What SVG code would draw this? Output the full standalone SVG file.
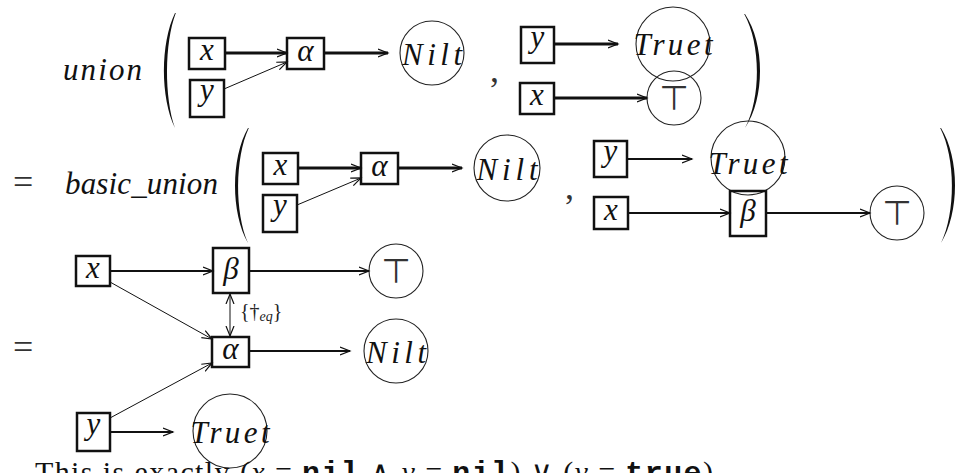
<svg xmlns="http://www.w3.org/2000/svg" width="962" height="473" viewBox="0 0 962 473">
<style>
.box{fill:none;stroke:#111;stroke-width:2.5}
.circ{fill:none;stroke:#222;stroke-width:1.1}
.c{fill:none;stroke:#111}
.k{stroke-width:2.8}
.md{stroke-width:2}
.tn{stroke-width:1}
.m{font-family:'Liberation Serif','DejaVu Serif','Times New Roman',serif;font-style:italic;font-size:31px;text-anchor:middle;fill:#111}
.r{font-family:'Liberation Serif','DejaVu Serif',serif;font-size:36px;fill:#333}
.top{font-family:'DejaVu Sans',sans-serif;font-size:34px;text-anchor:middle;fill:#333}
.paren{fill:#111;stroke:none}
.lbl{font-family:'Liberation Serif','DejaVu Serif',serif;font-size:20px;fill:#222}
.cap{font-family:'Liberation Serif','DejaVu Serif',serif;font-size:30px;fill:#111}
.tt{font-family:'Liberation Mono','DejaVu Sans Mono',monospace;font-weight:bold}
</style>
<defs>
<marker id="ah" markerWidth="12" markerHeight="10" refX="10" refY="5" orient="auto-start-reverse" markerUnits="userSpaceOnUse">
<path d="M0,1 L10,5 L0,9" fill="none" stroke="#111" stroke-width="1.2"/>
</marker>
</defs>

<!-- Row 1 -->
<text class="m" x="102.5" y="80" font-size="36" textLength="79" lengthAdjust="spacing">union</text>
<path class="paren" d="M175,13 C160.3,43 160.3,98 175,128 C164.3,98 164.3,43 175.8,13 Z"/>
<path class="paren" d="M745,14 C765,44 765,98 745,128 C761,98 761,44 744.2,14 Z"/>
<text class="r" x="490" y="82" font-size="30">,</text>

<g id="r1-x"><rect class="box" x="189" y="38" width="36" height="31"/><text class="m" x="207" y="60">x</text></g>
<g id="r1-y"><rect class="box" x="190" y="80" width="34" height="37"/><text class="m" x="207" y="100">y</text></g>
<g id="r1-alpha"><rect class="box" x="287" y="38" width="37" height="31"/><text class="m" x="305.5" y="61">α</text></g>
<g id="r1-nilt"><circle class="circ" cx="432" cy="53" r="32"/><text class="m" x="432" y="65" font-size="35" textLength="60" lengthAdjust="spacing">Nilt</text></g>
<g id="r1-y2"><rect class="box" x="521" y="27" width="33" height="36"/><text class="m" x="537.5" y="47">y</text></g>
<g id="r1-truet"><circle class="circ" cx="673" cy="44" r="37"/><text class="m" x="673" y="55" font-size="36" textLength="79" lengthAdjust="spacing">Truet</text></g>
<g id="r1-x2"><rect class="box" x="520" y="83" width="34" height="31"/><text class="m" x="537" y="105">x</text></g>
<g id="r1-top"><circle class="circ" cx="674" cy="98" r="27"/><text class="top" x="674" y="110">⊤</text></g>

<!-- Row 2 -->
<text class="r" x="13" y="194">=</text>
<text class="m" x="141.5" y="194" font-size="34" textLength="153" lengthAdjust="spacing">basic_union</text>
<path class="paren" d="M248,128 C230.7,158 230.7,213 248,243 C234.7,213 234.7,158 248.8,128 Z"/>
<path class="paren" d="M941,128 C959.7,158 959.7,213 941,243 C955.7,213 955.7,158 940.2,128 Z"/>
<text class="r" x="565" y="199" font-size="30">,</text>

<g id="r2-x"><rect class="box" x="263" y="153" width="35" height="31"/><text class="m" x="280.5" y="175">x</text></g>
<g id="r2-y"><rect class="box" x="263" y="195" width="34" height="37"/><text class="m" x="280" y="215">y</text></g>
<g id="r2-alpha"><rect class="box" x="361" y="153" width="37" height="31"/><text class="m" x="379.5" y="176">α</text></g>
<g id="r2-nilt"><circle class="circ" cx="507" cy="168" r="33"/><text class="m" x="507" y="180" font-size="35" textLength="61" lengthAdjust="spacing">Nilt</text></g>
<g id="r2-y2"><rect class="box" x="594" y="141" width="33" height="36"/><text class="m" x="610.5" y="161">y</text></g>
<g id="r2-truet"><circle class="circ" cx="748" cy="158" r="37"/><text class="m" x="748" y="174" font-size="36" textLength="79" lengthAdjust="spacing">Truet</text></g>
<g id="r2-x2"><rect class="box" x="594" y="197" width="34" height="32"/><text class="m" x="611" y="220">x</text></g>
<g id="r2-beta"><rect class="box" x="730" y="191" width="36" height="45"/><text class="m" x="748" y="221">β</text></g>
<g id="r2-top"><circle class="circ" cx="897" cy="213" r="27"/><text class="top" x="897" y="225">⊤</text></g>

<!-- Row 3 -->
<text class="r" x="13" y="359">=</text>
<g id="r3-x"><rect class="box" x="76" y="256" width="34" height="30"/><text class="m" x="93" y="278">x</text></g>
<g id="r3-beta"><rect class="box" x="213" y="248" width="36" height="45"/><text class="m" x="231" y="279">β</text></g>
<g id="r3-top"><circle class="circ" cx="396" cy="271" r="27"/><text class="top" x="396" y="283">⊤</text></g>
<g id="r3-alpha"><rect class="box" x="212" y="337" width="37" height="30"/><text class="m" x="230.5" y="359">α</text></g>
<g id="r3-nilt"><circle class="circ" cx="396" cy="351" r="32"/><text class="m" x="396" y="363" font-size="35" textLength="60" lengthAdjust="spacing">Nilt</text></g>
<g id="r3-y"><rect class="box" x="77" y="413" width="33" height="38"/><text class="m" x="93.5" y="434">y</text></g>
<g id="r3-truet"><circle class="circ" cx="230" cy="431" r="37"/><text class="m" x="230" y="443" font-size="36" textLength="79" lengthAdjust="spacing">Truet</text></g>
<text class="lbl" x="240" y="318">{†<tspan font-style="italic" font-size="14" dy="3">eq</tspan><tspan dy="-3">}</tspan></text>

<g id="connectors" fill="none" marker-end="url(#ah)">
<line class="c k" x1="225" y1="53" x2="287" y2="53"/>
<line class="c tn" x1="224" y1="89" x2="287" y2="62"/>
<line class="c k" x1="324" y1="53" x2="388" y2="53"/>
<line class="c k" x1="554" y1="44" x2="618" y2="44"/>
<line class="c k" x1="554" y1="98" x2="647" y2="98"/>
<line class="c k" x1="298" y1="168" x2="361" y2="168"/>
<line class="c tn" x1="297" y1="205" x2="361" y2="178"/>
<line class="c k" x1="398" y1="168" x2="462" y2="168"/>
<line class="c md" x1="627" y1="159" x2="692" y2="159"/>
<line class="c md" x1="628" y1="213" x2="730" y2="213"/>
<line class="c md" x1="766" y1="213" x2="870" y2="213"/>
<line class="c md" x1="110" y1="271" x2="213" y2="271"/>
<line class="c md" x1="249" y1="271" x2="369" y2="271"/>
<line class="c tn" x1="110" y1="282" x2="212" y2="339"/>
<line class="c tn" x1="110" y1="418" x2="212" y2="363"/>
<line class="c md" x1="249" y1="351" x2="350" y2="351"/>
<line class="c md" x1="110" y1="432" x2="173" y2="432"/>
<line class="c tn" x1="230" y1="294" x2="230" y2="336" marker-start="url(#ah)"/>
</g>

<text class="cap" x="35" y="482" textLength="678" lengthAdjust="spacing">This is exactly (<tspan font-style="italic">x</tspan> = <tspan class="tt">nil</tspan> ∧ <tspan font-style="italic">y</tspan> = <tspan class="tt">nil</tspan>) ∨ (<tspan font-style="italic">y</tspan> = <tspan class="tt">true</tspan>)</text>
</svg>
